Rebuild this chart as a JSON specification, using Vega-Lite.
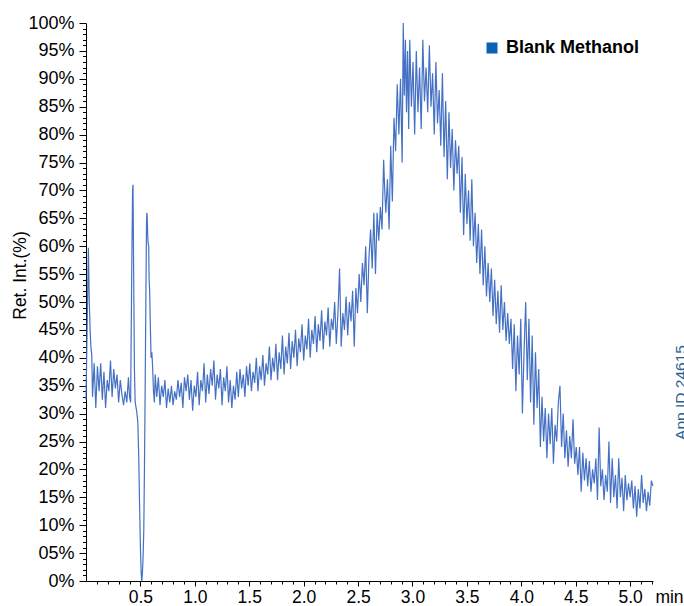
{
  "$schema": "https://vega.github.io/schema/vega-lite/v6.json",
  "width": 567,
  "height": 558,
  "autosize": {"type": "none"},
  "padding": {"left": 86, "top": 23, "right": 31, "bottom": 25},
  "config": {
    "view": {"stroke": null},
    "font": "Liberation Sans",
    "axis": {"grid": false, "domainColor": "#000000", "tickColor": "#000000", "labelColor": "#000000", "titleColor": "#000000", "labelFont": "Liberation Sans", "titleFont": "Liberation Sans", "titleFontWeight": "normal"}
  },
  "data": {"values": [
    {"t":0.000,"v":32.5},{"t":0.010,"v":45},{"t":0.022,"v":59.7},{"t":0.030,"v":50},{"t":0.038,"v":45},{"t":0.045,"v":42},{"t":0.053,"v":40.5},
    {"t":0.060,"v":33},{"t":0.075,"v":39},{"t":0.090,"v":31},{"t":0.105,"v":38.5},{"t":0.120,"v":34},{"t":0.135,"v":39},{"t":0.150,"v":32.5},{"t":0.165,"v":37.5},{"t":0.180,"v":31},{"t":0.195,"v":36},{"t":0.210,"v":34},{"t":0.225,"v":39.5},{"t":0.240,"v":33},{"t":0.255,"v":38},{"t":0.270,"v":34.5},{"t":0.285,"v":37},{"t":0.300,"v":32},{"t":0.315,"v":36},{"t":0.330,"v":33.5},{"t":0.345,"v":31.5},{"t":0.360,"v":34},{"t":0.375,"v":32},{"t":0.390,"v":36.5},{"t":0.400,"v":33},{"t":0.410,"v":32},
    {"t":0.420,"v":55},{"t":0.428,"v":70},{"t":0.432,"v":71},{"t":0.438,"v":55},{"t":0.445,"v":38},{"t":0.452,"v":32},{"t":0.465,"v":30.5},{"t":0.476,"v":28.5},{"t":0.485,"v":22},{"t":0.492,"v":14},{"t":0.500,"v":6},{"t":0.507,"v":1.5},{"t":0.512,"v":0},{"t":0.517,"v":1},{"t":0.524,"v":4},{"t":0.531,"v":9},{"t":0.537,"v":20},{"t":0.543,"v":33},{"t":0.550,"v":50},{"t":0.556,"v":64},{"t":0.559,"v":66},{"t":0.562,"v":65.5},{"t":0.567,"v":62},{"t":0.571,"v":60.5},{"t":0.576,"v":60},{"t":0.580,"v":54},{"t":0.585,"v":52},{"t":0.592,"v":45},{"t":0.598,"v":40},{"t":0.605,"v":41},{"t":0.612,"v":38.5},{"t":0.620,"v":34},{"t":0.628,"v":32},{"t":0.636,"v":37},
    {"t":0.650,"v":33},{"t":0.665,"v":36.5},{"t":0.680,"v":31.5},{"t":0.695,"v":35},{"t":0.710,"v":33},{"t":0.725,"v":36},{"t":0.740,"v":31},{"t":0.755,"v":34.5},{"t":0.770,"v":32},{"t":0.785,"v":35},{"t":0.800,"v":31.5},{"t":0.815,"v":34},{"t":0.830,"v":32.5},{"t":0.845,"v":36},{"t":0.860,"v":33},{"t":0.875,"v":35.5},{"t":0.890,"v":31},{"t":0.905,"v":36.5},{"t":0.920,"v":34},{"t":0.935,"v":37},{"t":0.950,"v":32.5},{"t":0.965,"v":36},{"t":0.980,"v":30.5},{"t":0.995,"v":35},
    {"t":1.010,"v":33},{"t":1.025,"v":37.5},{"t":1.040,"v":31.5},{"t":1.055,"v":36},{"t":1.070,"v":34},{"t":1.085,"v":39},{"t":1.100,"v":32},{"t":1.115,"v":37},{"t":1.130,"v":33.5},{"t":1.145,"v":38},{"t":1.160,"v":35},{"t":1.175,"v":39.5},{"t":1.190,"v":32.5},{"t":1.205,"v":37},{"t":1.220,"v":34.5},{"t":1.235,"v":38},{"t":1.250,"v":31.5},{"t":1.265,"v":36.5},{"t":1.280,"v":34},{"t":1.295,"v":38.5},{"t":1.310,"v":32},{"t":1.325,"v":36},{"t":1.340,"v":31},{"t":1.355,"v":35},{"t":1.370,"v":32.5},{"t":1.385,"v":37.5},{"t":1.400,"v":33},{"t":1.415,"v":38},{"t":1.430,"v":34.5},{"t":1.445,"v":37},{"t":1.460,"v":33},{"t":1.475,"v":38.5},{"t":1.490,"v":35},
    {"t":1.505,"v":39},{"t":1.520,"v":34},{"t":1.535,"v":37.5},{"t":1.550,"v":35.5},{"t":1.565,"v":40},{"t":1.580,"v":34},{"t":1.595,"v":38.5},{"t":1.610,"v":36},{"t":1.625,"v":40.5},{"t":1.640,"v":35},{"t":1.655,"v":39},{"t":1.670,"v":37},{"t":1.685,"v":42},{"t":1.700,"v":36},{"t":1.715,"v":40},{"t":1.730,"v":37.5},{"t":1.745,"v":42.5},{"t":1.760,"v":36},{"t":1.775,"v":41},{"t":1.790,"v":38},{"t":1.805,"v":44},{"t":1.820,"v":37},{"t":1.835,"v":42},{"t":1.850,"v":39},{"t":1.865,"v":44.5},{"t":1.880,"v":38},{"t":1.895,"v":43},{"t":1.910,"v":40},{"t":1.925,"v":45},{"t":1.940,"v":38.5},{"t":1.955,"v":43.5},{"t":1.970,"v":41},{"t":1.985,"v":46},
    {"t":2.000,"v":39.5},{"t":2.015,"v":44},{"t":2.030,"v":41.5},{"t":2.045,"v":47},{"t":2.060,"v":40},{"t":2.075,"v":45},{"t":2.090,"v":42.5},{"t":2.105,"v":47.5},{"t":2.120,"v":41},{"t":2.135,"v":46},{"t":2.150,"v":43},{"t":2.165,"v":48.5},{"t":2.180,"v":41.5},{"t":2.195,"v":46.5},{"t":2.210,"v":44},{"t":2.225,"v":49},{"t":2.240,"v":42},{"t":2.255,"v":47},{"t":2.270,"v":45},{"t":2.285,"v":50},{"t":2.300,"v":42.5},{"t":2.315,"v":48},{"t":2.330,"v":56},{"t":2.345,"v":42},{"t":2.360,"v":48},{"t":2.375,"v":45},{"t":2.390,"v":51},{"t":2.405,"v":44},{"t":2.420,"v":50},{"t":2.435,"v":46.5},{"t":2.450,"v":52},{"t":2.465,"v":42},{"t":2.480,"v":52.5},{"t":2.495,"v":48},
    {"t":2.510,"v":55},{"t":2.525,"v":50},{"t":2.540,"v":57},{"t":2.555,"v":53},{"t":2.570,"v":60},{"t":2.585,"v":48},{"t":2.600,"v":58},{"t":2.615,"v":63},{"t":2.630,"v":56},{"t":2.645,"v":66},{"t":2.660,"v":55},{"t":2.675,"v":66},{"t":2.690,"v":61},{"t":2.705,"v":67},{"t":2.720,"v":63},{"t":2.735,"v":75.5},{"t":2.745,"v":70},{"t":2.755,"v":66},{"t":2.770,"v":72},{"t":2.785,"v":63},{"t":2.800,"v":78},{"t":2.815,"v":68},{"t":2.830,"v":83},{"t":2.845,"v":77},{"t":2.860,"v":89},{"t":2.875,"v":80},{"t":2.890,"v":90},{"t":2.905,"v":75},{"t":2.915,"v":100},{"t":2.925,"v":87},{"t":2.935,"v":97},{"t":2.945,"v":84},{"t":2.955,"v":95},{"t":2.965,"v":81},{"t":2.975,"v":97},{"t":2.990,"v":85},
    {"t":3.005,"v":93},{"t":3.020,"v":80},{"t":3.035,"v":95},{"t":3.050,"v":84},{"t":3.065,"v":92},{"t":3.080,"v":81},{"t":3.095,"v":97},{"t":3.110,"v":86},{"t":3.125,"v":92},{"t":3.140,"v":84},{"t":3.155,"v":96},{"t":3.170,"v":85},{"t":3.185,"v":91},{"t":3.200,"v":80},{"t":3.215,"v":93},{"t":3.230,"v":82},{"t":3.245,"v":88},{"t":3.260,"v":78},{"t":3.275,"v":91},{"t":3.290,"v":76},{"t":3.305,"v":86},{"t":3.320,"v":72},{"t":3.335,"v":84},{"t":3.350,"v":74},{"t":3.365,"v":81},{"t":3.380,"v":70},{"t":3.395,"v":79},{"t":3.410,"v":73},{"t":3.425,"v":78},{"t":3.440,"v":66},{"t":3.455,"v":76},{"t":3.470,"v":62},{"t":3.485,"v":73},{"t":3.500,"v":64},
    {"t":3.515,"v":70},{"t":3.530,"v":61},{"t":3.545,"v":72},{"t":3.560,"v":60},{"t":3.575,"v":66},{"t":3.590,"v":57},{"t":3.605,"v":64},{"t":3.620,"v":55},{"t":3.635,"v":63},{"t":3.650,"v":53},{"t":3.665,"v":60},{"t":3.680,"v":51},{"t":3.695,"v":57},{"t":3.710,"v":50},{"t":3.725,"v":56},{"t":3.740,"v":47.5},{"t":3.755,"v":54},{"t":3.770,"v":46},{"t":3.785,"v":52},{"t":3.800,"v":44.5},{"t":3.815,"v":53},{"t":3.830,"v":45},{"t":3.845,"v":50},{"t":3.860,"v":43},{"t":3.875,"v":48},{"t":3.890,"v":42.5},{"t":3.905,"v":47},{"t":3.920,"v":38},{"t":3.935,"v":46},{"t":3.950,"v":34},{"t":3.965,"v":44},{"t":3.980,"v":37},{"t":3.995,"v":47},
    {"t":4.010,"v":30},{"t":4.025,"v":41},{"t":4.040,"v":50},{"t":4.055,"v":36},{"t":4.070,"v":47},{"t":4.085,"v":32},{"t":4.100,"v":44},{"t":4.115,"v":28},{"t":4.130,"v":41},{"t":4.145,"v":31},{"t":4.160,"v":38},{"t":4.175,"v":24},{"t":4.190,"v":33},{"t":4.205,"v":25},{"t":4.220,"v":31},{"t":4.235,"v":22},{"t":4.250,"v":30},{"t":4.265,"v":24.5},{"t":4.280,"v":31},{"t":4.295,"v":21},{"t":4.310,"v":28},{"t":4.325,"v":25},{"t":4.340,"v":32},{"t":4.355,"v":35},{"t":4.370,"v":24},{"t":4.385,"v":30},{"t":4.400,"v":22},{"t":4.415,"v":27},{"t":4.430,"v":20.5},{"t":4.445,"v":26},{"t":4.460,"v":22},{"t":4.475,"v":29},{"t":4.490,"v":21},
    {"t":4.505,"v":24},{"t":4.520,"v":19},{"t":4.535,"v":24},{"t":4.550,"v":16},{"t":4.565,"v":23},{"t":4.580,"v":18},{"t":4.595,"v":22},{"t":4.610,"v":17},{"t":4.625,"v":21.5},{"t":4.640,"v":16},{"t":4.655,"v":20},{"t":4.670,"v":17.5},{"t":4.685,"v":22},{"t":4.700,"v":14.5},{"t":4.715,"v":27.5},{"t":4.730,"v":17},{"t":4.745,"v":20},{"t":4.760,"v":14.5},{"t":4.775,"v":19},{"t":4.790,"v":16},{"t":4.805,"v":25},{"t":4.820,"v":14},{"t":4.835,"v":22},{"t":4.850,"v":15},{"t":4.865,"v":19},{"t":4.880,"v":13},{"t":4.895,"v":22},{"t":4.910,"v":15},{"t":4.925,"v":18.5},{"t":4.940,"v":12.5},{"t":4.955,"v":19},{"t":4.970,"v":14.5},{"t":4.985,"v":17.5},
    {"t":5.000,"v":15},{"t":5.015,"v":18},{"t":5.030,"v":13},{"t":5.045,"v":17},{"t":5.060,"v":11.5},{"t":5.075,"v":16.5},{"t":5.090,"v":13},{"t":5.105,"v":19},{"t":5.120,"v":14},{"t":5.135,"v":16.5},{"t":5.150,"v":12.5},{"t":5.165,"v":16},{"t":5.180,"v":13.5},{"t":5.195,"v":18},{"t":5.210,"v":17}
  ]},
  "layer": [
    {
      "mark": {"type": "line", "strokeWidth": 1.2},
      "encoding": {
        "x": {"field": "t", "type": "quantitative", "scale": {"domain": [0, 5.21], "nice": false, "zero": false},
              "axis": {"orient": "bottom", "values": [0.5, 1, 1.5, 2, 2.5, 3, 3.5, 4, 4.5, 5], "format": ".1f", "tickSize": 5, "labelPadding": 2, "labelFontSize": 17.5, "title": "min", "titleFontSize": 17.5, "titleAngle": 0, "titleX": 583, "titleY": 21, "titleAlign": "center", "titleBaseline": "alphabetic"}},
        "y": {"field": "v", "type": "quantitative", "scale": {"domain": [0, 100], "nice": false},
              "axis": {"orient": "left", "values": [0, 5, 10, 15, 20, 25, 30, 35, 40, 45, 50, 55, 60, 65, 70, 75, 80, 85, 90, 95, 100], "labelExpr": "datum.value == 0 ? '0%' : (datum.value < 10 ? '0' + datum.value + '%' : datum.value + '%')", "tickSize": 7, "labelPadding": 5, "labelFontSize": 18, "title": "Ret. Int.(%)", "titleFontSize": 17.5, "titleAngle": 270, "titleX": -66, "titleY": 252, "titleAlign": "center", "titleBaseline": "middle"}},
        "color": {"datum": "Blank Methanol", "type": "nominal", "scale": {"range": ["#4571c4"]},
                  "legend": {"orient": "none", "legendX": 397, "legendY": 16, "title": null, "symbolType": "square", "symbolSize": 121, "labelFontSize": 18, "labelFontWeight": "bold", "labelColor": "#000000", "labelFont": "Liberation Sans", "labelOffset": 5, "padding": 0,
                             "encode": {"symbols": {"update": {"fill": {"value": "#0b5fb5"}, "stroke": {"value": "#0b5fb5"}, "strokeWidth": {"value": 0}, "opacity": {"value": 1}}}}}}
      }
    },
    {
      "mark": {"type": "point", "opacity": 0},
      "encoding": {
        "x": {"field": "t", "type": "quantitative",
              "axis": {"orient": "bottom", "values": [0.1, 0.2, 0.3, 0.4, 0.6, 0.7, 0.8, 0.9, 1.1, 1.2, 1.3, 1.4, 1.6, 1.7, 1.8, 1.9, 2.1, 2.2, 2.3, 2.4, 2.6, 2.7, 2.8, 2.9, 3.1, 3.2, 3.3, 3.4, 3.6, 3.7, 3.8, 3.9, 4.1, 4.2, 4.3, 4.4, 4.6, 4.7, 4.8, 4.9, 5.1, 5.2], "labels": false, "domain": false, "tickSize": 3, "title": null}},
        "y": {"field": "v", "type": "quantitative",
              "axis": {"orient": "left", "values": [1, 2, 3, 4, 6, 7, 8, 9, 11, 12, 13, 14, 16, 17, 18, 19, 21, 22, 23, 24, 26, 27, 28, 29, 31, 32, 33, 34, 36, 37, 38, 39, 41, 42, 43, 44, 46, 47, 48, 49, 51, 52, 53, 54, 56, 57, 58, 59, 61, 62, 63, 64, 66, 67, 68, 69, 71, 72, 73, 74, 76, 77, 78, 79, 81, 82, 83, 84, 86, 87, 88, 89, 91, 92, 93, 94, 96, 97, 98, 99], "labels": false, "domain": false, "tickSize": 3.5, "title": null}}
      }
    },
    {
      "mark": {"type": "point", "opacity": 0},
      "encoding": {
        "y": {"field": "v", "type": "quantitative",
              "axis": {"orient": "right", "labels": false, "ticks": false, "domain": false, "title": "App ID 24615", "titleFontSize": 15.5, "titleColor": "#2a5d8f", "titleAngle": 270, "titleX": 32, "titleY": 369, "titleAlign": "center", "titleBaseline": "alphabetic"}}
      }
    }
  ],
  "resolve": {"axis": {"x": "independent", "y": "independent"}}
}
